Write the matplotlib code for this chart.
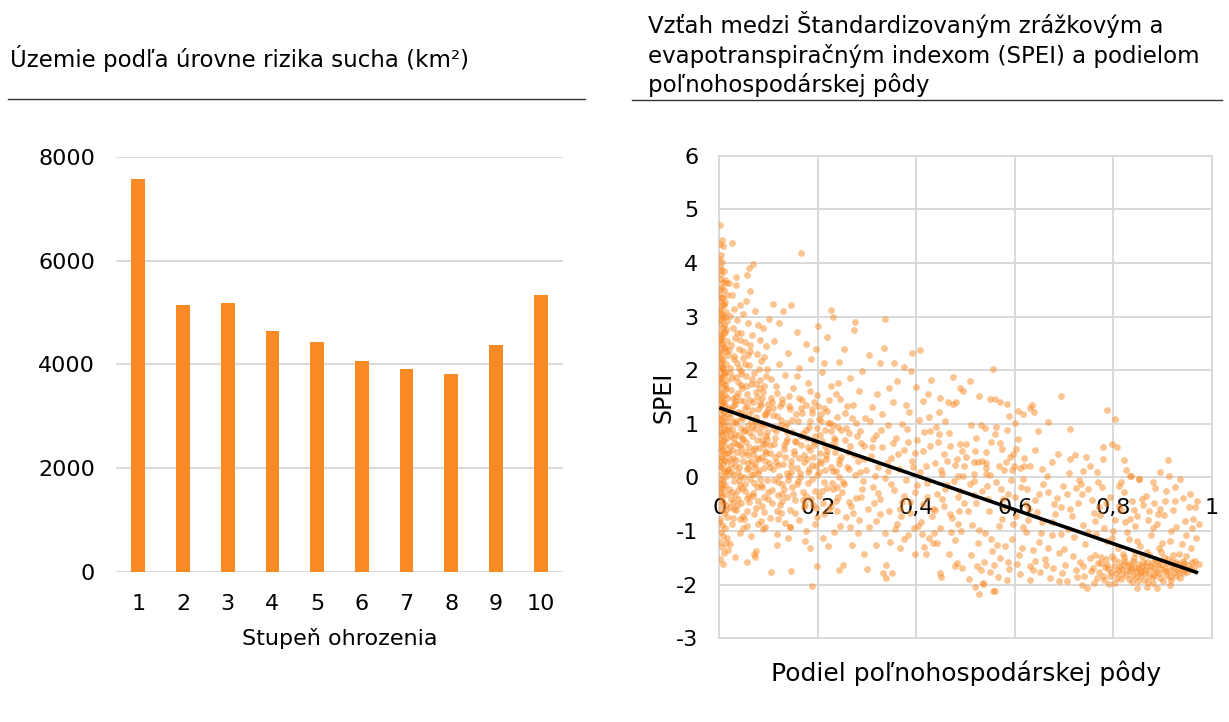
import numpy as np
import matplotlib.pyplot as plt
from matplotlib.lines import Line2D

plt.rcParams['font.family'] = ['DejaVu Sans']
plt.rcParams['axes.unicode_minus'] = False

orange = '#FA8A24'
grid_col = '#d9d9d9'

# Left chart: area per drought risk level (km2)
levels = ['1', '2', '3', '4', '5', '6', '7', '8', '9', '10']
area_km2 = [7580, 5140, 5190, 4640, 4430, 4070, 3910, 3810, 4370, 5330]

# Right chart: SPEI vs share of agricultural land
# strip right at x = 0
band_edge = [
    (0.002, 4.71), (0.005, 4.42), (0.001, 4.36), (0.008, 4.31), (0.003, 4.14), (0.000, 4.07),
    (0.006, 4.01), (0.002, 3.93), (0.009, 3.85), (0.004, 3.79), (0.001, 3.71), (0.007, 3.64),
    (0.003, 3.55), (0.010, 3.49), (0.000, 3.43), (0.005, 3.37), (0.002, 3.30), (0.008, 3.24),
    (0.004, 3.17), (0.001, 3.12), (0.006, 3.05), (0.011, 2.99), (0.003, 2.93), (0.000, 2.87),
    (0.007, 2.80), (0.002, 2.74), (0.009, 2.69), (0.005, 2.62), (0.001, 2.57), (0.004, 2.50),
    (0.010, 2.44), (0.002, 2.39), (0.006, 2.31), (0.000, 2.26), (0.008, 2.20), (0.003, 2.13),
    (0.005, 2.07), (0.001, 2.01), (0.009, 1.95), (0.004, 1.88), (0.002, 1.83), (0.007, 1.76),
    (0.000, 1.70), (0.011, 1.65), (0.003, 1.58), (0.006, 1.52), (0.001, 1.46), (0.008, 1.41),
    (0.004, 1.34), (0.002, 1.27), (0.010, 1.22), (0.005, 1.16), (0.000, 1.10), (0.007, 1.03),
    (0.003, 0.97), (0.009, 0.92), (0.001, 0.86), (0.005, 0.79), (0.002, 0.73), (0.008, 0.68),
    (0.004, 0.61), (0.000, 0.55), (0.006, 0.49), (0.011, 0.43), (0.003, 0.37), (0.001, 0.30),
    (0.007, 0.25), (0.004, 0.18), (0.009, 0.12), (0.002, 0.05), (0.005, -0.03), (0.000, -0.11),
    (0.008, -0.19), (0.003, -0.28), (0.006, -0.37), (0.001, -0.47), (0.004, -0.58), (0.009, -0.66),
    (0.002, -0.77), (0.006, -0.88), (0.003, -1.01), (0.008, -1.09), (0.001, -1.21), (0.005, -1.30),
    (0.010, -1.41), (0.002, -1.52), (0.007, -1.61),
    (0.013, 3.62), (0.015, 3.41), (0.012, 3.27), (0.014, 3.08), (0.016, 2.91), (0.013, 2.77),
    (0.015, 2.55), (0.012, 2.41), (0.017, 2.28), (0.014, 2.12), (0.012, 1.97), (0.016, 1.81),
    (0.013, 1.67), (0.015, 1.49), (0.012, 1.36), (0.017, 1.19), (0.014, 1.05), (0.013, 0.88),
    (0.016, 0.74), (0.012, 0.59), (0.015, 0.45), (0.013, 0.31), (0.017, 0.16), (0.014, 0.02),
    (0.012, -0.14), (0.016, -0.31), (0.013, -0.52), (0.015, -0.73), (0.012, -0.95),
]
band_edge_b = [
    (0.004, 3.52), (0.009, 3.21), (0.001, 2.96), (0.012, 2.71), (0.006, 2.48), (0.003, 2.19),
    (0.010, 1.92), (0.000, 1.61), (0.007, 1.38), (0.002, 1.07), (0.011, 0.82), (0.005, 0.51),
    (0.001, 0.21), (0.008, -0.06), (0.003, -0.33), (0.013, -0.61), (0.006, 3.34), (0.002, 3.07),
    (0.010, 2.84), (0.004, 2.60), (0.000, 2.35), (0.008, 2.03), (0.003, 1.77), (0.012, 1.54),
    (0.005, 1.25), (0.001, 0.99), (0.009, 0.70), (0.004, 0.40), (0.014, 0.10), (0.002, -0.22),
    (0.007, -0.45), (0.000, -0.83), (0.003, 3.86), (0.011, 3.69), (0.006, 2.05), (0.001, 1.88),
    (0.009, 1.13), (0.004, 0.85), (0.013, 2.36), (0.002, 2.67), (0.007, 3.00), (0.000, 0.64),
    (0.010, 0.33), (0.005, -0.14), (0.012, 1.73), (0.003, 1.45),
]

# 0.02 - 0.10
band_low = [
    (0.026, 4.37), (0.069, 3.98), (0.061, 3.90), (0.057, 3.78), (0.034, 3.73), (0.020, 3.63),
    (0.034, 3.58), (0.062, 3.48), (0.055, 3.29), (0.100, 2.96), (0.079, 2.84),
    (0.025, 3.41), (0.041, 3.22), (0.030, 3.15), (0.048, 3.05), (0.022, 3.02), (0.072, 3.10),
    (0.036, 2.93), (0.058, 2.88), (0.088, 2.79), (0.027, 2.78), (0.045, 2.70), (0.067, 2.66),
    (0.031, 2.61), (0.083, 2.57), (0.052, 2.52), (0.024, 2.47), (0.094, 2.45), (0.039, 2.40),
    (0.063, 2.36), (0.076, 2.30), (0.029, 2.27), (0.049, 2.22), (0.085, 2.18), (0.035, 2.14),
    (0.060, 2.09), (0.021, 2.05), (0.096, 2.03), (0.043, 1.98), (0.071, 1.95), (0.055, 1.89),
    (0.026, 1.86), (0.082, 1.82), (0.038, 1.78), (0.064, 1.74), (0.091, 1.70), (0.047, 1.66),
    (0.023, 1.63), (0.074, 1.59), (0.057, 1.55), (0.033, 1.51), (0.086, 1.48), (0.042, 1.44),
    (0.068, 1.40), (0.099, 1.37), (0.028, 1.34), (0.053, 1.30), (0.079, 1.27), (0.037, 1.23),
    (0.061, 1.19), (0.092, 1.16), (0.022, 1.12), (0.046, 1.09), (0.072, 1.05), (0.034, 1.01),
    (0.058, 0.98), (0.084, 0.94), (0.026, 0.90), (0.050, 0.87), (0.097, 0.84), (0.040, 0.80),
    (0.066, 0.77), (0.030, 0.73), (0.077, 0.70), (0.054, 0.66), (0.088, 0.62), (0.021, 0.59),
    (0.044, 0.55), (0.069, 0.52), (0.036, 0.48), (0.094, 0.45), (0.059, 0.41), (0.027, 0.37),
    (0.081, 0.34), (0.048, 0.30), (0.073, 0.26), (0.032, 0.22), (0.090, 0.18), (0.056, 0.15),
    (0.024, 0.11), (0.065, 0.07), (0.041, 0.03), (0.083, -0.02), (0.029, -0.07), (0.052, -0.12),
    (0.076, -0.18), (0.037, -0.23), (0.098, -0.28), (0.061, -0.34), (0.023, -0.40), (0.045, -0.47),
    (0.087, -0.53), (0.033, -0.61), (0.070, -0.68), (0.050, -0.77), (0.026, -0.86), (0.092, -0.92),
    (0.041, -1.03), (0.064, -1.10), (0.022, -1.24), (0.075, -1.37), (0.031, -1.49), (0.057, -1.58),
    (0.027, -0.76), (0.042, -0.77), (0.056, -0.90), (0.089, -0.96), (0.084, -0.82), (0.016, -1.13),
    (0.013, -1.22), (0.018, -1.35), (0.070, -1.43), (0.072, -1.49),
]
band_low_b = [
    (0.019, 2.38), (0.044, 1.21), (0.087, 0.39), (0.031, -0.33), (0.066, 1.83), (0.023, 0.78),
    (0.052, 2.11), (0.078, -0.44), (0.037, 1.57), (0.095, 0.98), (0.018, 0.14), (0.061, 0.57),
    (0.042, 2.56), (0.084, 1.36), (0.028, 1.04), (0.070, -0.11), (0.049, 0.71), (0.091, 2.24),
    (0.033, 0.33), (0.057, -0.62), (0.075, 1.12), (0.021, 1.95), (0.046, -0.19), (0.082, 0.82),
    (0.039, 2.04), (0.063, 1.45), (0.097, -0.05), (0.025, 0.52), (0.054, 1.71), (0.071, 0.19),
    (0.035, -0.51), (0.089, 1.59), (0.017, 1.29), (0.058, 0.27), (0.080, 2.02), (0.044, 0.93),
    (0.029, 2.21), (0.068, -0.29), (0.093, 0.63), (0.051, 1.42), (0.019, -0.22), (0.075, 1.74),
    (0.038, 0.10), (0.062, 2.47), (0.085, -0.14), (0.027, 1.48), (0.047, 0.44), (0.073, 0.91),
    (0.098, 1.28), (0.034, 1.87), (0.056, -0.38), (0.081, 0.55), (0.022, -0.55), (0.065, 1.06),
    (0.043, 1.73), (0.090, -0.36), (0.030, 0.65), (0.059, 2.29), (0.077, 1.50), (0.040, -0.04),
    (0.094, 1.90), (0.024, 0.26), (0.050, 1.16), (0.069, 0.43), (0.036, 2.70), (0.086, 1.02),
    (0.020, 0.87), (0.053, -0.26), (0.079, 0.08), (0.045, 1.93), (0.067, 1.26), (0.028, -0.45),
    (0.092, 0.30), (0.041, 0.60), (0.060, 0.84), (0.083, 1.67), (0.032, 1.37), (0.074, -0.57),
    (0.048, 2.36), (0.096, 0.72),
]

# dense wedge 0.02 - 0.25, SPEI between -1 and 1.5
band_dense = [
    (0.021, 0.34), (0.048, -0.71), (0.093, 1.18), (0.137, -0.36), (0.184, 0.52), (0.229, -0.11),
    (0.032, 1.42), (0.071, 0.06), (0.116, 0.87), (0.162, -0.79), (0.207, 1.05), (0.243, 0.33),
    (0.055, 0.48), (0.098, -0.41), (0.141, 1.33), (0.188, -0.02), (0.232, 0.74), (0.026, -0.28),
    (0.067, 0.95), (0.109, 0.16), (0.153, 0.68), (0.196, -0.57), (0.039, 0.20), (0.082, 1.39),
    (0.125, -0.66), (0.171, 0.29), (0.214, 0.89), (0.017, 0.96), (0.060, -0.45), (0.103, 0.61),
    (0.148, 1.07), (0.191, 0.39), (0.236, -0.44), (0.044, 1.12), (0.087, -0.17), (0.130, 0.25),
    (0.176, -0.34), (0.219, 1.24), (0.029, -0.59), (0.073, 0.55), (0.118, 1.15), (0.163, 0.09),
    (0.209, -0.26), (0.051, 0.01), (0.095, 0.77), (0.139, -0.05), (0.183, 0.95), (0.226, 0.19),
    (0.035, 0.62), (0.078, -0.86), (0.122, 0.44), (0.167, 1.21), (0.212, -0.69), (0.024, 1.27),
    (0.064, 0.31), (0.107, -0.23), (0.151, 0.50), (0.194, 0.78), (0.239, -0.17), (0.042, -0.14),
    (0.086, 0.69), (0.128, 1.46), (0.174, -0.50), (0.217, 0.42), (0.031, 0.81), (0.075, 1.01),
    (0.120, -0.08), (0.165, 0.60), (0.203, 0.10), (0.057, 1.34), (0.101, 0.27), (0.144, -0.93),
    (0.189, 1.28), (0.234, 0.58), (0.019, 0.47), (0.062, -0.03), (0.106, 1.41), (0.150, -0.31),
    (0.197, 0.21), (0.046, 0.73), (0.090, -0.65), (0.133, 0.94), (0.178, 0.35), (0.224, 1.02),
    (0.037, -0.40), (0.080, 0.14), (0.124, -0.52), (0.169, 0.83), (0.215, 0.58), (0.053, 0.88),
    (0.097, 1.23), (0.142, 0.03), (0.186, -0.41), (0.241, 0.95), (0.028, 0.05), (0.069, -0.35),
    (0.113, 0.38), (0.158, -0.12), (0.201, 1.33), (0.049, -0.95), (0.092, 0.49), (0.136, 0.66),
    (0.180, 0.11), (0.227, -0.53), (0.034, 1.05), (0.076, 0.37), (0.119, -0.33), (0.161, 1.48),
    (0.205, 0.31), (0.058, 0.18), (0.102, -0.76), (0.146, 0.22), (0.192, 0.67), (0.237, 0.12),
]

# 0.10 - 0.30
band_mid_low = [
    (0.166, 4.18), (0.108, 3.24), (0.146, 3.21), (0.130, 3.11), (0.227, 3.13), (0.231, 2.99),
    (0.276, 2.90), (0.273, 2.75), (0.201, 2.83), (0.218, 2.62), (0.253, 2.40), (0.197, 2.40),
    (0.290, 1.99), (0.122, 2.88), (0.158, 2.71), (0.112, 2.55), (0.175, 2.49), (0.139, 2.33),
    (0.186, 2.21), (0.121, 2.12), (0.243, 2.15), (0.162, 2.05), (0.208, 1.96), (0.134, 1.91),
    (0.265, 1.85), (0.105, 1.83), (0.181, 1.77), (0.226, 1.70), (0.150, 1.66), (0.283, 1.62),
    (0.117, 1.58), (0.199, 1.53), (0.246, 1.47), (0.168, 1.44), (0.128, 1.39), (0.272, 1.35),
    (0.213, 1.30), (0.143, 1.27), (0.189, 1.21), (0.109, 1.17), (0.238, 1.13), (0.296, 1.10),
    (0.160, 1.06), (0.220, 1.01), (0.125, 0.97), (0.258, 0.93), (0.176, 0.89), (0.138, 0.84),
    (0.204, 0.80), (0.280, 0.77), (0.114, 0.73), (0.235, 0.70), (0.155, 0.66), (0.192, 0.61),
    (0.265, 0.58), (0.131, 0.54), (0.218, 0.50), (0.102, 0.46), (0.172, 0.42), (0.248, 0.39),
    (0.293, 0.35), (0.146, 0.31), (0.207, 0.27), (0.119, 0.23), (0.260, 0.20), (0.183, 0.16),
    (0.231, 0.12), (0.137, 0.08), (0.276, 0.04), (0.164, 0.00), (0.110, -0.04), (0.212, -0.08),
    (0.253, -0.13), (0.148, -0.17), (0.289, -0.21), (0.195, -0.26), (0.127, -0.31), (0.240, -0.36),
    (0.170, -0.42), (0.106, -0.48), (0.268, -0.53), (0.222, -0.59), (0.153, -0.66), (0.198, -0.73),
    (0.284, -0.79), (0.133, -0.85), (0.245, -0.91), (0.176, -0.99), (0.118, -1.05), (0.140, -1.13),
    (0.211, -1.12), (0.184, -1.32), (0.221, -1.27), (0.270, -1.26), (0.117, -1.26), (0.294, -1.43),
    (0.252, -1.63), (0.198, -1.65), (0.105, -1.76), (0.146, -1.74), (0.243, -1.72), (0.299, -1.70),
    (0.188, -2.02), (0.104, 1.49), (0.137, 1.02), (0.158, 0.18), (0.181, 0.57), (0.226, 0.86),
    (0.262, 0.47), (0.287, 0.64), (0.115, 0.29), (0.203, 1.09), (0.244, 0.01), (0.169, -0.28),
    (0.131, 0.61), (0.278, -0.38), (0.217, 0.35), (0.190, -0.51), (0.144, -0.60), (0.256, 1.21),
    (0.123, 1.34), (0.230, -0.22), (0.298, 0.14), (0.165, 1.29), (0.209, 0.68), (0.272, -0.66),
    (0.108, 0.93), (0.236, 1.55), (0.152, 0.43), (0.185, 1.62), (0.127, -0.12), (0.264, 0.82),
    (0.199, 0.05),
]
band_mid_low_b = [
    (0.112, 0.62), (0.156, 1.18), (0.203, -0.34), (0.247, 0.88), (0.285, 0.11), (0.131, -0.21),
    (0.178, 0.73), (0.222, 1.44), (0.264, -0.45), (0.141, 1.52), (0.189, 0.24), (0.234, 0.47),
    (0.277, 1.02), (0.118, -0.63), (0.162, 0.37), (0.207, 1.19), (0.251, -0.08), (0.294, 0.59),
    (0.126, 1.08), (0.171, -0.55), (0.215, 0.14), (0.259, 1.34), (0.103, 0.19), (0.147, 0.84),
    (0.193, 1.41), (0.238, -0.63), (0.281, 0.31), (0.134, 0.39), (0.180, -0.10), (0.227, 0.61),
    (0.270, 1.11), (0.109, 1.29), (0.153, -0.42), (0.198, 0.92), (0.242, 0.25), (0.288, -0.37),
    (0.121, 0.03), (0.166, 0.78), (0.211, -0.48), (0.255, 0.69), (0.145, 0.11), (0.185, 1.05),
    (0.230, 0.98), (0.274, 0.41), (0.115, 1.71), (0.160, -0.07), (0.205, 0.45), (0.250, -0.28),
    (0.292, -0.06), (0.138, 0.71), (0.177, 1.35), (0.219, -0.19), (0.263, 0.15), (0.128, -0.44),
    (0.194, -0.86), (0.240, 1.76), (0.286, 0.87), (0.157, 1.89), (0.212, 2.14), (0.258, -0.74),
    (0.143, -0.92), (0.232, -1.02), (0.174, -1.18), (0.281, -1.04), (0.119, -0.78), (0.266, -0.93),
]

# 0.30 - 0.50
band_mid = [
    (0.337, 2.95), (0.334, 2.41), (0.408, 2.37), (0.392, 2.32), (0.303, 2.28), (0.355, 2.14),
    (0.376, 2.06), (0.390, 1.98), (0.326, 2.14), (0.361, 1.80), (0.423, 1.56), (0.448, 1.49),
    (0.464, 1.40), (0.481, 1.40), (0.414, 1.43), (0.352, 1.40), (0.321, 1.56), (0.447, 1.23),
    (0.405, 1.08), (0.475, 1.88), (0.489, 1.66), (0.495, 1.61), (0.474, 1.37),
    (0.333, -1.79), (0.351, -1.79), (0.339, -1.63), (0.318, -1.26), (0.367, -1.32), (0.374, -1.15),
    (0.397, -1.42), (0.419, -1.42), (0.448, -1.78), (0.467, -1.43), (0.482, -1.60), (0.416, -1.30),
    (0.434, -1.23), (0.443, -1.22), (0.450, -1.85), (0.492, -1.69), (0.479, -1.66), (0.338, -1.87),
    (0.305, 1.05), (0.342, 0.98), (0.381, 0.91), (0.427, 0.87), (0.466, 0.83), (0.318, 0.79),
    (0.359, 0.74), (0.402, 0.70), (0.445, 0.66), (0.489, 0.62), (0.331, 0.57), (0.374, 0.52),
    (0.413, 0.49), (0.456, 0.44), (0.308, 0.40), (0.349, 0.36), (0.392, 0.31), (0.437, 0.27),
    (0.478, 0.23), (0.323, 0.19), (0.365, 0.15), (0.408, 0.11), (0.452, 0.07), (0.494, 0.03),
    (0.336, -0.01), (0.379, -0.05), (0.421, -0.10), (0.463, -0.14), (0.312, -0.18), (0.355, -0.23),
    (0.398, -0.27), (0.441, -0.31), (0.484, -0.36), (0.327, -0.40), (0.370, -0.45), (0.414, -0.49),
    (0.457, -0.54), (0.302, -0.58), (0.345, -0.63), (0.388, -0.67), (0.431, -0.72), (0.472, -0.76),
    (0.318, -0.81), (0.361, -0.86), (0.404, -0.90), (0.449, -0.95), (0.491, -0.99), (0.337, -1.04),
    (0.383, -1.08), (0.426, -1.13), (0.470, -1.01), (0.352, 0.65), (0.397, 0.45), (0.440, 0.95),
    (0.482, 0.35), (0.315, -0.48), (0.368, -0.72), (0.419, 0.22), (0.459, -0.22), (0.328, 0.88),
    (0.376, -0.35), (0.433, -0.58), (0.486, -0.62), (0.343, 0.12), (0.409, -0.83), (0.311, 1.31),
    (0.386, 1.22), (0.458, 1.05), (0.344, 1.67), (0.429, 1.81),
]
band_mid_b = [
    (0.309, 0.57), (0.348, -0.12), (0.384, 0.66), (0.421, -0.37), (0.462, 0.31), (0.497, -0.48),
    (0.326, -0.69), (0.363, 0.43), (0.402, -0.14), (0.446, 0.81), (0.485, -0.86), (0.317, 0.02),
    (0.357, -0.97), (0.393, 0.19), (0.438, -0.61), (0.476, -0.07), (0.331, 1.18), (0.371, 0.99),
    (0.411, -1.05), (0.453, -0.40), (0.492, 0.49), (0.304, -0.92), (0.341, 0.27), (0.387, -0.46),
    (0.428, 0.58), (0.468, -0.69), (0.322, -0.29), (0.366, -0.58), (0.415, 0.84), (0.451, 0.13),
    (0.489, -0.25), (0.347, -1.21), (0.395, -0.95), (0.436, -1.04), (0.479, -1.17), (0.313, 0.71),
    (0.380, 1.35), (0.425, 1.12), (0.468, 0.58), (0.399, 1.68),
]

# 0.50 - 0.70
band_mid_high = [
    (0.555, 2.03), (0.550, 1.47), (0.560, 1.47), (0.570, 1.40), (0.584, 1.37), (0.607, 1.24),
    (0.616, 1.19), (0.630, 1.29), (0.635, 1.36), (0.639, 1.22), (0.589, 1.15), (0.694, 1.51),
    (0.667, 1.03), (0.648, 0.86), (0.511, 0.98), (0.531, 0.98), (0.539, 0.92), (0.562, 0.94),
    (0.559, 0.81), (0.551, 0.66), (0.570, 0.65), (0.574, 0.54), (0.584, 0.89), (0.601, 1.02),
    (0.603, 0.54), (0.590, 0.38), (0.619, 0.37), (0.597, 0.44), (0.542, 0.48), (0.520, 0.50),
    (0.500, 0.62), (0.500, 0.38), (0.517, 0.28), (0.525, 0.28), (0.534, 0.31), (0.542, 0.27),
    (0.542, 0.17), (0.542, 0.07), (0.578, 0.13), (0.595, 0.13), (0.598, 0.22), (0.611, 0.18),
    (0.619, 0.22), (0.631, 0.22), (0.496, 0.22), (0.517, 0.07), (0.484, 0.03), (0.688, 0.44),
    (0.665, 0.03), (0.510, 1.80), (0.528, 1.52),
    (0.508, -0.12), (0.533, -0.25), (0.561, -0.08), (0.587, -0.31), (0.612, -0.17), (0.641, -0.42),
    (0.668, -0.27), (0.693, -0.55), (0.521, -0.47), (0.548, -0.62), (0.576, -0.40), (0.603, -0.71),
    (0.629, -0.58), (0.656, -0.84), (0.682, -0.69), (0.514, -0.88), (0.539, -1.03), (0.568, -0.91),
    (0.595, -1.15), (0.622, -1.02), (0.649, -1.21), (0.675, -1.08), (0.699, -1.33), (0.526, -1.22),
    (0.553, -1.38), (0.581, -1.27), (0.608, -1.45), (0.636, -1.36), (0.662, -1.52), (0.689, -1.41),
    (0.528, -2.18), (0.536, -1.99), (0.556, -2.11), (0.506, -1.89), (0.523, -1.66), (0.550, -1.76),
    (0.570, -1.51), (0.587, -1.57), (0.631, -1.66), (0.651, -1.76), (0.678, -1.69), (0.631, -1.91),
    (0.672, -1.88), (0.519, -2.04), (0.535, -1.97), (0.559, -2.11), (0.544, -0.16), (0.592, -0.05),
    (0.625, -0.22), (0.658, -0.12), (0.686, -0.38), (0.573, -0.77), (0.617, -0.93), (0.646, -0.64),
    (0.518, -0.33), (0.604, -1.62), (0.566, -1.85), (0.695, -1.79),
]
band_mid_high_b = [
    (0.505, -0.62), (0.527, -0.98), (0.552, -1.14), (0.579, -0.55), (0.601, -0.36), (0.627, -0.79),
    (0.653, -1.03), (0.679, -0.50), (0.512, -1.44), (0.538, -1.58), (0.563, -1.26), (0.589, -1.71),
    (0.615, -1.31), (0.641, -1.55), (0.667, -1.32), (0.693, -1.05), (0.518, -0.07), (0.545, -0.41),
    (0.571, -0.22), (0.597, -0.86), (0.623, -0.49), (0.650, -0.31), (0.676, -0.84), (0.698, -0.15),
    (0.532, -1.73), (0.558, -1.63), (0.584, -1.92), (0.610, -1.80), (0.637, -1.72), (0.663, -1.64),
    (0.689, -1.93), (0.549, 0.04), (0.583, 0.29), (0.616, -0.02), (0.655, 0.15), (0.522, 0.73),
    (0.606, 0.72), (0.640, 0.51), (0.676, 0.28), (0.567, 0.21),
]

# 0.70 - 0.98
band_high = [
    (0.713, 0.91), (0.780, 0.56), (0.797, 0.62), (0.807, 0.57), (0.780, 0.34), (0.822, 0.32),
    (0.710, 0.08), (0.712, 0.35), (0.723, 0.42), (0.745, 0.38), (0.836, 0.03), (0.852, -0.02),
    (0.787, 1.26), (0.803, 1.09), (0.752, 0.21), (0.731, -0.05), (0.766, 0.11), (0.815, -0.09),
    (0.834, 0.02), (0.853, -0.03), (0.885, -0.20), (0.908, -0.25), (0.936, -0.03), (0.942, -0.39),
    (0.705, -0.31), (0.728, -0.48), (0.749, -0.22), (0.771, -0.56), (0.793, -0.37), (0.816, -0.61),
    (0.838, -0.44), (0.861, -0.52), (0.883, -0.47), (0.716, -0.72), (0.738, -0.88), (0.760, -0.67),
    (0.782, -0.94), (0.804, -0.79), (0.827, -1.02), (0.849, -0.71), (0.872, -0.63), (0.894, -0.58),
    (0.721, -1.11), (0.743, -1.24), (0.765, -1.05), (0.788, -1.19), (0.810, -1.31), (0.832, -1.14),
    (0.855, -1.27), (0.877, -1.08), (0.899, -1.22), (0.734, -0.12), (0.777, -0.18), (0.821, -0.28),
    (0.866, -0.35), (0.845, -0.91), (0.889, -0.86), (0.799, -0.99), (0.756, -0.42), (0.708, -0.96),
    (0.868, -1.39), (0.812, -0.53), (0.890, -0.69), (0.842, -0.60),
    (0.702, -1.63), (0.706, -1.94), (0.736, -2.01), (0.746, -2.07), (0.766, -1.88), (0.804, -1.97),
    (0.848, -2.07), (0.868, -2.04), (0.888, -2.07), (0.915, -2.01), (0.942, -1.79),
    (0.718, -1.47), (0.725, -1.72), (0.733, -1.58), (0.741, -1.83), (0.752, -1.51), (0.758, -1.69),
    (0.763, -1.44), (0.771, -1.77), (0.776, -1.60), (0.781, -1.92), (0.785, -1.53), (0.790, -1.71),
    (0.794, -1.84), (0.798, -1.46), (0.802, -1.65), (0.806, -1.79), (0.811, -1.57), (0.815, -1.89),
    (0.818, -1.70), (0.822, -1.49), (0.826, -1.82), (0.829, -1.63), (0.833, -1.75), (0.837, -1.95),
    (0.840, -1.55), (0.844, -1.68), (0.847, -1.86), (0.851, -1.61), (0.855, -1.78), (0.858, -1.47),
    (0.862, -1.91), (0.865, -1.72), (0.869, -1.58), (0.873, -1.84), (0.876, -1.66), (0.880, -1.97),
    (0.884, -1.53), (0.887, -1.76), (0.891, -1.64), (0.895, -1.88), (0.898, -1.71), (0.902, -1.49),
    (0.906, -1.82), (0.909, -1.60), (0.913, -1.74), (0.917, -1.91), (0.920, -1.56), (0.924, -1.69),
    (0.928, -1.83), (0.932, -1.62), (0.936, -1.77), (0.941, -1.55), (0.946, -1.70), (0.952, -1.64),
    (0.783, -1.67), (0.809, -1.73), (0.835, -1.69), (0.859, -1.65), (0.882, -1.81), (0.857, -1.74),
    (0.821, -1.62),
    (0.905, -0.43), (0.921, -0.61), (0.953, -0.55), (0.962, -0.77), (0.928, -0.92), (0.947, -1.08),
    (0.915, -1.19), (0.958, -1.31), (0.933, -1.42), (0.968, -1.12), (0.974, -0.86), (0.912, 0.32),
    (0.895, 0.11), (0.926, -0.18), (0.966, -1.55), (0.974, -1.62),
]
band_high_b = [
    (0.754, -1.74), (0.768, -1.59), (0.779, -1.83), (0.787, -1.64), (0.796, -1.77), (0.801, -1.52),
    (0.808, -1.88), (0.813, -1.67), (0.817, -1.80), (0.824, -1.56), (0.828, -1.73), (0.831, -1.90),
    (0.836, -1.61), (0.839, -1.81), (0.843, -1.50), (0.846, -1.74), (0.850, -1.93), (0.853, -1.68),
    (0.857, -1.84), (0.861, -1.57), (0.864, -1.79), (0.867, -1.66), (0.871, -1.95), (0.874, -1.72),
    (0.878, -1.60), (0.881, -1.86), (0.885, -1.69), (0.889, -1.55), (0.893, -1.79), (0.896, -1.62),
    (0.900, -1.93), (0.904, -1.68), (0.907, -1.75), (0.911, -1.53), (0.915, -1.85), (0.919, -1.66),
    (0.923, -1.78), (0.927, -1.58), (0.931, -1.72), (0.935, -1.88), (0.939, -1.65), (0.944, -1.59),
    (0.949, -1.76), (0.955, -1.70), (0.727, -1.86), (0.739, -1.65), (0.761, -1.96), (0.775, -1.48),
    (0.792, -1.99), (0.819, -1.42), (0.845, -1.40), (0.872, -1.45), (0.897, -1.39), (0.921, -1.44),
    (0.948, -1.46), (0.959, -1.58), (0.963, -1.67),
    (0.712, -0.58), (0.737, -0.31), (0.762, -0.82), (0.786, -0.48), (0.811, -0.16), (0.834, -0.77),
    (0.859, -0.41), (0.881, -0.95), (0.903, -0.70), (0.925, -0.44), (0.946, -0.82), (0.965, -0.56),
    (0.724, -0.19), (0.748, -1.02), (0.774, -0.70), (0.797, -1.12), (0.823, -0.84), (0.848, -1.19),
    (0.870, -0.80), (0.893, -1.31), (0.917, -0.99), (0.940, -1.24), (0.960, -0.95), (0.739, 0.12),
    (0.768, -0.09), (0.826, 0.13), (0.880, -0.08), (0.913, 0.02), (0.955, -0.30), (0.970, -0.44),
]

# fitted trend line end points
trend_x = [0.0, 0.972]
trend_y = [1.30, -1.78]

x_ticks = [0, 0.2, 0.4, 0.6, 0.8, 1.0]
x_tick_labels = ['0', '0,2', '0,4', '0,6', '0,8', '1']
y_ticks = [-3, -2, -1, 0, 1, 2, 3, 4, 5, 6]

points = np.array(band_edge + band_edge_b + band_low + band_low_b + band_dense
                  + band_mid_low + band_mid_low_b + band_mid + band_mid_b
                  + band_mid_high + band_mid_high_b + band_high + band_high_b)

fig = plt.figure(figsize=(12.29, 7.22), dpi=100)

# Titles and rules above both panels
fig.text(10 / 1229, 1 - 58 / 722, 'Územie podľa úrovne rizika sucha (km²)',
         fontsize=16.5, va='center', ha='left')
fig.add_artist(Line2D([8 / 1229, 585 / 1229], [1 - 99 / 722] * 2, color='#333333', lw=1))
fig.text(648 / 1229, 1 - 54 / 722,
         'Vzťah medzi Štandardizovaným zrážkovým a\n'
         'evapotranspiračným indexom (SPEI) a podielom\n'
         'poľnohospodárskej pôdy',
         fontsize=16.5, va='center', ha='left', linespacing=1.3)
fig.add_artist(Line2D([632 / 1229, 1222 / 1229], [1 - 100 / 722] * 2, color='#333333', lw=1))

# Bar chart
ax1 = fig.add_axes([0.0944, 0.2078, 0.3637, 0.5748])
ax1.bar(range(len(levels)), area_km2, width=0.31, color=orange, zorder=3)
ax1.set_xlim(-0.5, len(levels) - 0.5)
ax1.set_ylim(0, 8000)
ax1.set_yticks([0, 2000, 4000, 6000, 8000])
ax1.set_xticks(range(len(levels)))
ax1.set_xticklabels(levels)
ax1.grid(axis='y', color=grid_col, lw=1.4)
ax1.set_axisbelow(True)
for s in ax1.spines.values():
    s.set_visible(False)
ax1.tick_params(axis='y', length=0, labelsize=16, pad=15)
ax1.tick_params(axis='x', length=0, labelsize=16, pad=16)
ax1.set_xlabel('Stupeň ohrozenia', fontsize=16, labelpad=10)

# Scatter chart
ax2 = fig.add_axes([0.5853, 0.1159, 0.4007, 0.6684])
ax2.scatter(points[:, 0], points[:, 1], s=24, color=orange, alpha=0.5, linewidths=0, zorder=2)
ax2.plot(trend_x, trend_y, color='black', lw=2.6, zorder=3, solid_capstyle='butt')
ax2.set_xlim(0, 1)
ax2.set_ylim(-3, 6)
ax2.set_xticks(x_ticks)
ax2.set_xticklabels(x_tick_labels)
ax2.set_yticks(y_ticks)
ax2.set_yticklabels([str(v) for v in y_ticks])
ax2.spines['bottom'].set_position(('data', 0))
for s in ax2.spines.values():
    s.set_visible(False)
ax2.grid(color=grid_col, lw=1.4)
for gl in ax2.get_xgridlines() + ax2.get_ygridlines():
    gl.set_clip_on(False)
ax2.set_axisbelow(True)
ax2.tick_params(axis='y', length=0, labelsize=16, pad=15)
ax2.tick_params(axis='x', length=0, labelsize=16, pad=15)
ax2.text(-0.114, 0.5, 'SPEI', transform=ax2.transAxes, rotation=90,
         fontsize=17, ha='center', va='center')
ax2.text(0.5, -0.072, 'Podiel poľnohospodárskej pôdy', transform=ax2.transAxes,
         fontsize=18, ha='center', va='center')

fig.savefig('out.png', dpi=100)
